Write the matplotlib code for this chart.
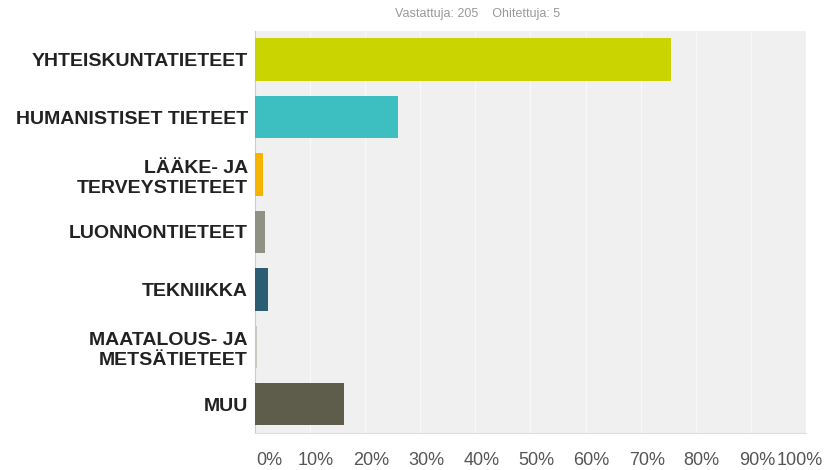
import numpy as np
import matplotlib.pyplot as plt
from matplotlib.transforms import ScaledTranslation

plt.rcParams['font.family'] = ['Liberation Sans', 'DejaVu Sans']

categories = ["YHTEISKUNTATIETEET", "HUMANISTISET TIETEET", "LÄÄKE- JA\nTERVEYSTIETEET",
              "LUONNONTIETEET", "TEKNIIKKA", "MAATALOUS- JA\nMETSÄTIETEET", "MUU"]
values = [75.6, 25.9, 1.5, 1.9, 2.4, 0.3, 16.1]
colors = ["#c9d400", "#3dbfc2", "#f5b400", "#8e9183", "#2b5e72", "#c8c8c0", "#5e5c4a"]
ticks = list(range(0, 101, 10))
tick_labels = [f"{t}%" for t in ticks]

fig = plt.figure(figsize=(8.26, 4.70), dpi=100)
ax = fig.add_axes([0.3087, 0.079, 0.667, 0.855])
ax.set_facecolor("#f0f0f0")

y = np.arange(len(categories))
ax.barh(y, values, height=0.74, color=colors, zorder=3)

ax.set_xlim(0, 100)
ax.set_ylim(len(categories) - 0.5, -0.5)
ax.set_xticks(ticks)
ax.set_xticklabels(tick_labels, fontsize=13, color="#555555")
ax.set_yticks(y)
ax.set_yticklabels(categories, fontsize=14, fontweight="bold", color="#222222",
                   linespacing=1.25)
ax.tick_params(axis="both", length=0)
ax.tick_params(axis="y", pad=5)
ax.tick_params(axis="x", pad=14)
ax.grid(axis="x", color="#f8f8f8", linewidth=1, zorder=0)
ax.set_axisbelow(True)

for s in ["top", "right"]:
    ax.spines[s].set_visible(False)
ax.spines["left"].set_color("#cccccc")
ax.spines["bottom"].set_color("#dddddd")

# shift tick labels a little like the original
for i, lab in enumerate(ax.get_xticklabels()):
    if i == len(ticks) - 1:
        lab.set_horizontalalignment("right")
        lab.set_transform(lab.get_transform() + ScaledTranslation(17 / 100, 0, fig.dpi_scale_trans))
    elif i == 0:
        lab.set_transform(lab.get_transform() + ScaledTranslation(14 / 100, 0, fig.dpi_scale_trans))
    else:
        lab.set_transform(lab.get_transform() + ScaledTranslation(6 / 100, 0, fig.dpi_scale_trans))

fig.text(0.578, 0.971, "Vastattuja: 205    Ohitettuja: 5", fontsize=9,
         color="#999999", ha="center", va="center")

fig.savefig("out.png", dpi=100)
